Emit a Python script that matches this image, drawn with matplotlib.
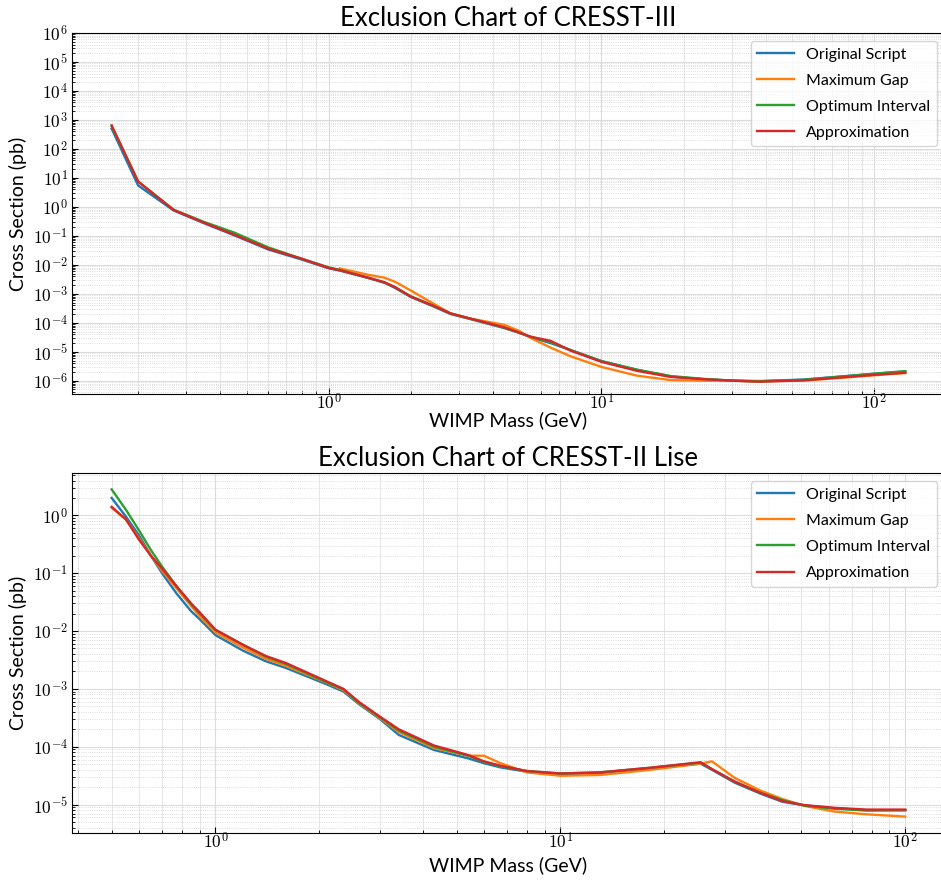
import matplotlib
matplotlib.use("Agg")
import matplotlib.pyplot as plt
import matplotlib.ticker as mticker
import numpy as np

plt.rcParams['font.family'] = ['Lato', 'DejaVu Sans']
plt.rcParams['mathtext.fontset'] = 'cm'

labels = ["Original Script", "Maximum Gap", "Optimum Interval", "Approximation"]
colors = ["#1f77b4", "#ff7f0e", "#2ca02c", "#d62728"]

# CRESST-III
mass3 = [0.16, 0.2, 0.27, 0.35, 0.45, 0.6, 0.8, 1.0, 1.1, 1.4, 1.6, 1.75, 2.0, 2.4, 2.8,
         3.3, 4.4, 5.0, 5.5, 6.5, 7.7, 10, 13.5, 18, 24, 31, 38, 55, 75, 100, 130]
orig3 = [500, 5.5, 0.75, 0.27, 0.105, 0.034, 0.015, 0.0076, 0.0063, 0.0035, 0.0024, 0.0016, 7.8e-4,
         3.8e-4, 2.0e-4, 1.35e-4, 6.6e-5, 4.5e-5, 3.2e-5, 2.0e-5, 1.15e-5, 4.8e-6, 2.4e-6,
         1.4e-6, 1.12e-6, 1.0e-6, 9.8e-7, 1.1e-6, 1.4e-6, 1.75e-6, 2.1e-6]
optim3 = [600, 7.5, 0.8, 0.3, 0.13, 0.04, 0.016, 0.0082, 0.0067, 0.0035, 0.0025, 0.0017, 8.2e-4,
          4.0e-4, 2.1e-4, 1.4e-4, 6.8e-5, 4.5e-5, 3.3e-5, 2.2e-5, 1.15e-5, 4.7e-6, 2.4e-6,
          1.45e-6, 1.15e-6, 1.0e-6, 9.5e-7, 1.08e-6, 1.38e-6, 1.75e-6, 2.15e-6]
approx3 = [650, 7.5, 0.78, 0.28, 0.11, 0.036, 0.016, 0.0078, 0.0065, 0.0036, 0.0025, 0.0017, 8.0e-4,
           4.0e-4, 2.1e-4, 1.4e-4, 7.0e-5, 4.6e-5, 3.3e-5, 2.4e-5, 1.1e-5, 4.5e-6, 2.2e-6,
           1.35e-6, 1.12e-6, 1.0e-6, 9.3e-7, 1.03e-6, 1.3e-6, 1.6e-6, 1.9e-6]
mass3_gap = [1.1, 1.4, 1.6, 1.75, 2.0, 2.4, 2.8, 3.3, 4.4, 5.0, 5.5, 6.5, 7.7, 10, 13.5, 18,
             24, 31, 38, 55, 75, 100, 130]
gap3 = [0.0075, 0.0045, 0.0036, 0.0026, 0.0013, 4.8e-4, 2.1e-4, 1.4e-4, 8.5e-5, 5.2e-5, 3.0e-5,
        1.4e-5, 7.0e-6, 3.0e-6, 1.5e-6, 1.05e-6, 1.0e-6, 1.0e-6, 9.6e-7, 1.02e-6, 1.25e-6,
        1.55e-6, 1.85e-6]

# CRESST-II Lise
mass2 = [0.5, 0.55, 0.6, 0.65, 0.7, 0.77, 0.85, 0.9, 1.0, 1.2, 1.4, 1.6, 2.1, 2.35, 2.6, 3.0,
         3.4, 4.3, 5.4, 6.0, 6.7, 8.0, 10, 13, 18, 25.5, 27.5, 32, 38, 44, 51, 62, 77, 100]
orig2 = [2.0, 0.95, 0.45, 0.2, 0.1, 0.045, 0.022, 0.016, 0.0085, 0.0046, 0.003, 0.0023, 0.0012,
         9e-4, 5.5e-4, 3.0e-4, 1.6e-4, 8.8e-5, 6.3e-5, 5.2e-5, 4.4e-5, 3.7e-5, 3.4e-5, 3.5e-5,
         4.2e-5, 5.1e-5, 4.0e-5, 2.4e-5, 1.55e-5, 1.12e-5, 9.7e-6, 8.7e-6, 8.0e-6, 8.0e-6]
gap2 = [1.35, 0.85, 0.4, 0.2, 0.11, 0.055, 0.027, 0.018, 0.0095, 0.0052, 0.0033, 0.0025, 0.00128,
        9.5e-4, 5.7e-4, 3.1e-4, 1.8e-4, 9.5e-5, 7.0e-5, 7.0e-5, 5.2e-5, 3.6e-5, 3.15e-5, 3.25e-5,
        3.95e-5, 5.1e-5, 5.6e-5, 2.9e-5, 1.75e-5, 1.25e-5, 9.5e-6, 7.6e-6, 6.8e-6, 6.2e-6]
optim2 = [2.8, 1.25, 0.55, 0.25, 0.13, 0.06, 0.029, 0.02, 0.0105, 0.0058, 0.0036, 0.0027, 0.0013,
          9.8e-4, 5.8e-4, 3.2e-4, 1.9e-4, 1.0e-4, 7.0e-5, 5.5e-5, 4.6e-5, 3.8e-5, 3.45e-5, 3.6e-5,
          4.3e-5, 5.3e-5, 4.1e-5, 2.5e-5, 1.6e-5, 1.2e-5, 9.6e-6, 8.5e-6, 7.9e-6, 8.0e-6]
approx2 = [1.4, 0.85, 0.38, 0.2, 0.12, 0.06, 0.03, 0.021, 0.0105, 0.0058, 0.0037, 0.0028, 0.00135,
           0.001, 6.0e-4, 3.3e-4, 2.0e-4, 1.05e-4, 7.2e-5, 5.6e-5, 4.7e-5, 3.8e-5, 3.45e-5, 3.6e-5,
           4.3e-5, 5.4e-5, 4.1e-5, 2.5e-5, 1.6e-5, 1.15e-5, 9.8e-6, 8.8e-6, 8.2e-6, 8.2e-6]

xticks = [1, 10, 100]
yticks3 = [10.0 ** k for k in range(-6, 7)]
yticks2 = [10.0 ** k for k in range(-5, 1)]


def pow_fmt(v, pos):
    return r'$10^{%d}$' % int(round(np.log10(v)))


def style(ax, title, xlabelpad, yticks, ylim=None):
    ax.set_xscale('log')
    ax.set_yscale('log')
    ax.set_xticks(xticks)
    ax.set_yticks(yticks)
    if ylim is not None:
        ax.set_ylim(*ylim)
    ax.set_title(title, fontsize=18.5, pad=5)
    ax.set_xlabel("WIMP Mass (GeV)", fontsize=14, labelpad=xlabelpad)
    ax.set_ylabel("Cross Section (pb)", fontsize=14)
    ax.xaxis.set_minor_locator(mticker.LogLocator(base=10, subs=np.arange(2, 10), numticks=100))
    ax.yaxis.set_minor_locator(mticker.LogLocator(base=10, subs=np.arange(2, 10), numticks=100))
    ax.xaxis.set_minor_formatter(mticker.NullFormatter())
    ax.yaxis.set_minor_formatter(mticker.NullFormatter())
    ax.xaxis.set_major_formatter(mticker.FuncFormatter(pow_fmt))
    ax.yaxis.set_major_formatter(mticker.FuncFormatter(pow_fmt))
    ax.tick_params(which='both', direction='in', labelsize=12.5)
    ax.tick_params(axis='x', pad=-1)
    ax.tick_params(axis='y', pad=3)
    ax.tick_params(which='major', length=4)
    ax.tick_params(which='minor', length=2)
    ax.grid(True, which='major', color='#dcdcdc', linewidth=0.8)
    ax.xaxis.grid(True, which='minor', color='#e2e2e2', linewidth=0.6)
    ax.yaxis.grid(True, which='minor', color='#d4d4d4', linewidth=0.6, linestyle=':')
    ax.set_axisbelow(True)
    ax.legend(loc='upper right', fontsize=11.5, handlelength=2.3, labelspacing=0.75)


fig = plt.figure(figsize=(9.41, 8.82), dpi=100)
ax1 = fig.add_axes([0.0765, 0.5533, 0.9277, 0.4093])
ax2 = fig.add_axes([0.0765, 0.0556, 0.9277, 0.408])

ax1.plot(mass3, orig3, color=colors[0], lw=1.7, label=labels[0])
ax1.plot(mass3_gap, gap3, color=colors[1], lw=1.7, label=labels[1])
ax1.plot(mass3, optim3, color=colors[2], lw=1.7, label=labels[2])
ax1.plot(mass3, approx3, color=colors[3], lw=1.7, label=labels[3])
style(ax1, "Exclusion Chart of CRESST-III", -1, yticks3, ylim=(3.5e-7, 1e6))

ax2.plot(mass2, orig2, color=colors[0], lw=1.7, label=labels[0])
ax2.plot(mass2, gap2, color=colors[1], lw=1.7, label=labels[1])
ax2.plot(mass2, optim2, color=colors[2], lw=1.7, label=labels[2])
ax2.plot(mass2, approx2, color=colors[3], lw=1.7, label=labels[3])
style(ax2, "Exclusion Chart of CRESST-II Lise", 3, yticks2)

fig.savefig("out.png", dpi=100)
